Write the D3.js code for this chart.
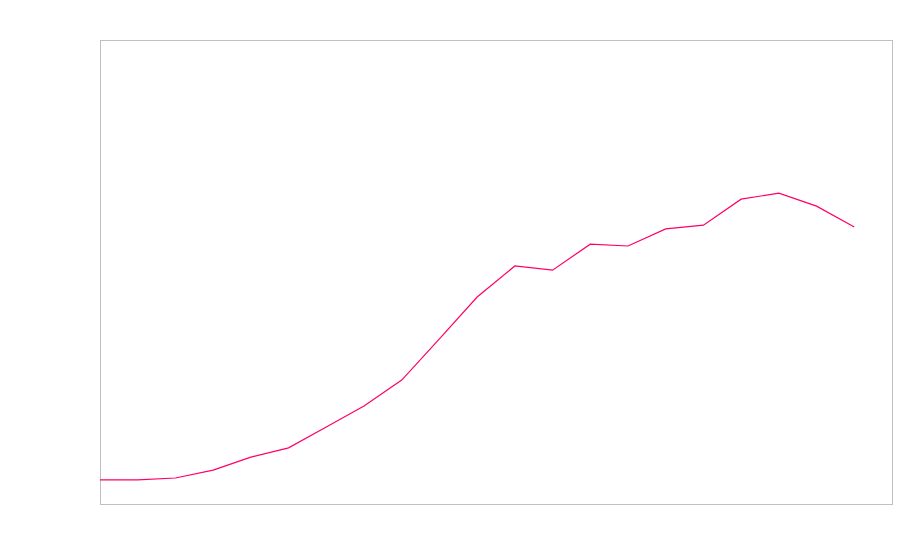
<!DOCTYPE html>
<html>
<head>
<meta charset="utf-8">
<script src="https://cdn.jsdelivr.net/npm/d3@7"></script>
<style>
  html, body { margin: 0; padding: 0; background: #fff; }
  svg { display: block; }
</style>
</head>
<body>
<svg id="chart" width="900" height="560"></svg>
<script>
const periods = d3.range(0, 21);
const values = [5.2, 5.2, 5.6, 7.3, 10.1, 12.1, 16.6, 21.1, 26.7, 35.6, 44.6, 51.3, 50.4, 56.0, 55.6, 59.3, 60.1, 65.7, 67.0, 64.2, 59.7];

const W = 900, H = 560;
const m = { left: 100, right: 8, top: 40, bottom: 56 };
const svg = d3.select("#chart");

const x = d3.scaleLinear().domain([0, 21]).range([m.left, W - m.right]);
const y = d3.scaleLinear().domain([0, 100]).range([H - m.bottom, m.top]);

svg.append("rect")
  .attr("x", m.left + 0.5).attr("y", m.top + 0.5)
  .attr("width", W - m.left - m.right)
  .attr("height", H - m.top - m.bottom)
  .attr("fill", "none").attr("stroke", "#c0c0c0").attr("stroke-width", 1);

const line = d3.line().x((d, i) => x(periods[i])).y(d => y(d));
svg.append("path")
  .datum(values)
  .attr("d", line)
  .attr("fill", "none")
  .attr("stroke", "#ff0066")
  .attr("stroke-width", 1.2);
</script>
</body>
</html>
